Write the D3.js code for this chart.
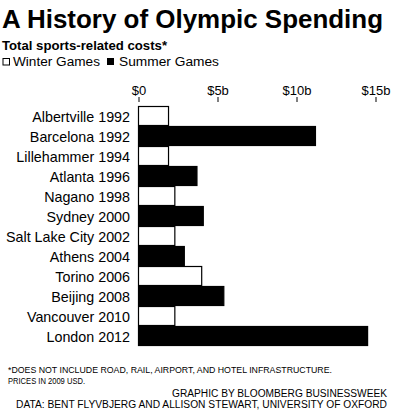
<!DOCTYPE html>
<html><head><meta charset="utf-8">
<script src="https://cdn.jsdelivr.net/npm/d3@7"></script>
<style>
body{margin:0;background:#fff;}
text{font-family:"Liberation Sans",Arial,Helvetica,sans-serif;fill:#000;}
</style></head>
<body><svg id="c" width="394" height="420"></svg>
<script>
const games = ["Albertville 1992","Barcelona 1992","Lillehammer 1994","Atlanta 1996","Nagano 1998","Sydney 2000","Salt Lake City 2002","Athens 2004","Torino 2006","Beijing 2008","Vancouver 2010","London 2012"];
const season = ["Winter","Summer","Winter","Summer","Winter","Summer","Winter","Summer","Winter","Summer","Winter","Summer"];
const costs = [1.9, 11.2, 1.9, 3.7, 2.3, 4.1, 2.3, 2.9, 4.0, 5.4, 2.3, 14.5];
const tickValues = [0, 5, 10, 15];
const tickLabels = ["$0", "$5b", "$10b", "$15b"];

const svg = d3.select("#c");
const x = d3.scaleLinear().domain([0, 15]).range([138.5, 375.5]);
const y = d3.scaleBand().domain(games).range([106, 346]).padding(0);

function fitText(sel, w){ sel.attr("textLength", w).attr("lengthAdjust","spacingAndGlyphs"); }

svg.append("text").attr("x",2).attr("y",27.5).attr("font-size",25).attr("font-weight","bold")
  .text("A History of Olympic Spending").call(fitText, 381);
svg.append("text").attr("x",2).attr("y",50).attr("font-size",12).attr("font-weight","bold")
  .text("Total sports-related costs*").call(fitText, 165);

// legend
const lg = svg.append("g");
lg.append("rect").attr("x",3).attr("y",58.5).attr("width",6.5).attr("height",6.5).attr("fill","#fff").attr("stroke","#000").attr("stroke-width",1);
lg.append("text").attr("x",13).attr("y",65.5).attr("font-size",12).text("Winter Games").call(fitText, 87);
lg.append("rect").attr("x",107).attr("y",58).attr("width",7).attr("height",7).attr("fill","#000");
lg.append("text").attr("x",119).attr("y",65.5).attr("font-size",12).text("Summer Games").call(fitText, 100);

// axis
const axis = d3.axisTop(x).tickValues(tickValues).tickFormat((d,i)=>tickLabels[i]).tickSize(5).tickPadding(2);
const ag = svg.append("g").attr("transform","translate(0,102)").call(axis);
ag.select(".domain").remove();
ag.selectAll("line").attr("stroke","#000").attr("stroke-width",1);
ag.selectAll("text").attr("font-size",13).attr("fill","#000").attr("font-family","Liberation Sans, Arial, sans-serif");

// bars
svg.append("g").selectAll("rect").data(games).join("rect")
  .attr("x", x(0))
  .attr("y", d=>y(d)+0.5)
  .attr("width", (d,i)=>x(costs[i])-x(0))
  .attr("height", y.bandwidth()-1)
  .attr("fill", (d,i)=>season[i]==="Winter"?"#fff":"#000")
  .attr("stroke","#000").attr("stroke-width",1.2);

// labels
svg.append("g").selectAll("text").data(games).join("text")
  .attr("x",130).attr("y",d=>y(d)+y.bandwidth()/2+5.5)
  .attr("text-anchor","end").attr("font-size",14.3).text(d=>d);

// footer
svg.append("text").attr("x",8).attr("y",373).attr("font-size",8.5)
  .text("*DOES NOT INCLUDE ROAD, RAIL, AIRPORT, AND HOTEL INFRASTRUCTURE.").call(fitText, 324);
svg.append("text").attr("x",8).attr("y",384).attr("font-size",8.5)
  .text("PRICES IN 2009 USD.").call(fitText, 77);
svg.append("text").attr("x",387).attr("y",397).attr("font-size",10).attr("text-anchor","end")
  .text("GRAPHIC BY BLOOMBERG BUSINESSWEEK").call(fitText, 215);
svg.append("text").attr("x",387).attr("y",408).attr("font-size",10).attr("text-anchor","end")
  .text("DATA: BENT FLYVBJERG AND ALLISON STEWART, UNIVERSITY OF OXFORD").call(fitText, 371);
</script></body></html>
